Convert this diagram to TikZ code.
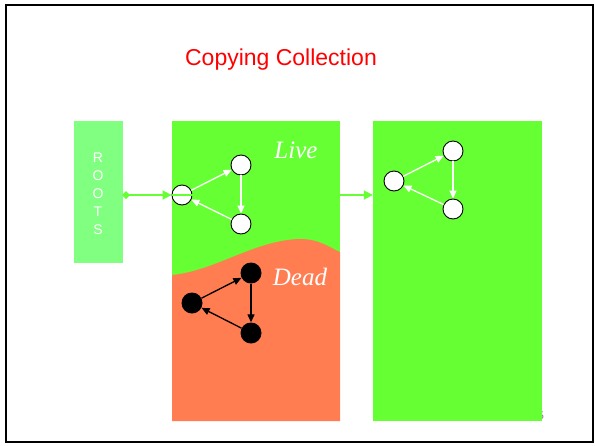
\documentclass[tikz,border=0pt]{standalone}
\usepackage{fontspec}
\setmainfont{Liberation Serif}
\setsansfont{Liberation Sans}
\usetikzlibrary{arrows.meta}
\definecolor{livegreen}{RGB}{102,255,51}
\definecolor{rootgreen}{RGB}{128,255,128}
\definecolor{deadorange}{RGB}{255,125,80}
\tikzset{
  space/.style={rectangle, fill=livegreen, draw=none, minimum width=169pt, minimum height=300pt, inner sep=0pt},
  livenode/.style={circle, draw=black, line width=0.9pt, fill=white, minimum size=20pt, inner sep=0pt},
  deadnode/.style={circle, fill=black, minimum size=21pt, inner sep=0pt},
  livearrow/.style={draw=white, line width=1.3pt, -{Triangle[length=8pt,width=7pt]}},
  deadarrow/.style={draw=black, line width=1.3pt, -{Triangle[length=8pt,width=7pt]}},
  rootarrow/.style={draw=livegreen, line width=1.8pt, {Diamond[length=8pt,width=8pt]}-{Triangle[length=9pt,width=9pt]}},
  ptrline/.style={draw=livegreen, line width=1.8pt, -{Triangle[length=9pt,width=9pt]}},
  label/.style={font=\itshape\fontsize{25}{25}\selectfont, text=white, inner sep=0pt}
}
\begin{document}
\begin{tikzpicture}[x=1pt, y=-1pt]
\useasboundingbox (0,0) rectangle (595,445);
% slide frame
\draw[line width=2pt] (6,5) rectangle (593,442);
% title
\node[text=red, font=\sffamily\fontsize{23}{23}\selectfont] (title) at (281,60) {Copying Collection};
% page number, partly hidden behind the to-space
\node[text=gray, font=\sffamily\fontsize{11}{11}\selectfont, inner sep=0pt] (pageno) at (541,416) {5};
% roots
\node[rectangle, fill=rootgreen, minimum width=49pt, minimum height=142pt, inner sep=0pt] (roots) at (98.5,192) {};
\node[text=white, font=\sffamily\fontsize{14}{18}\selectfont, align=center] (rootstext) at (98,194) {R\\O\\O\\T\\S};
% from-space and to-space
\node[space, minimum width=168pt] (from) at (256,271) {};
\node[space] (to) at (457.5,271) {};
% dead region of the from-space
\fill[deadorange] (172,421) -- (172,275)
  .. controls (215,271) and (255,240) .. (300,239)
  .. controls (320,239) and (330,248) .. (340,252)
  -- (340,421) -- cycle;
\node[label] (live) at (296,150) {Live};
\node[label] (dead) at (300,277) {Dead};
% live objects
\node[livenode] (a) at (182,195) {};
\node[livenode] (b) at (241,165) {};
\node[livenode] (c) at (241,224) {};
% dead objects
\node[deadnode] (d) at (192,303) {};
\node[deadnode] (e) at (251,273) {};
\node[deadnode] (f) at (251,333) {};
% copied objects
\node[livenode] (g) at (394,181) {};
\node[livenode] (h) at (453,151) {};
\node[livenode] (i) at (453,209) {};
% root pointer and forwarding pointer
\coordinate (rootout) at (122,195);
\draw[rootarrow] (rootout) -- (a.west);
\draw[ptrline] (a.west) -- (a.west -| to.west);
% pointers between objects
\draw[livearrow] (a) -- (b);
\draw[livearrow] (b) -- (c);
\draw[livearrow] (c) -- (a);
\draw[deadarrow] (d) -- (e);
\draw[deadarrow] (e) -- (f);
\draw[deadarrow] (f) -- (d);
\draw[livearrow] (g) -- (h);
\draw[livearrow] (h) -- (i);
\draw[livearrow] (i) -- (g);
\end{tikzpicture}
\end{document}
